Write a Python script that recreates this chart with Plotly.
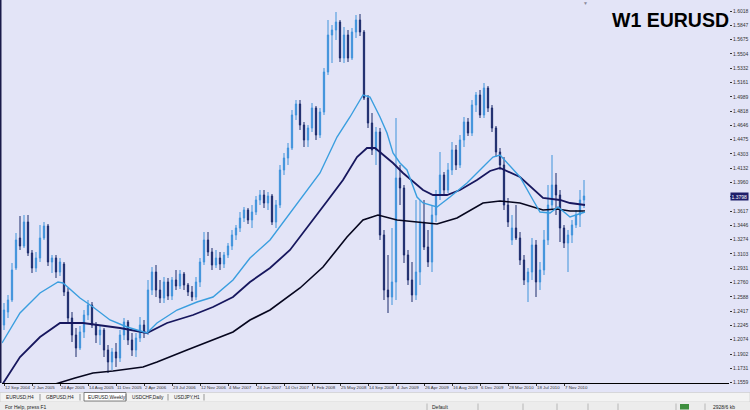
import plotly.graph_objects as go

# ---------------- data ----------------
open_ = [
    1.2250, 1.2406, 1.2550, 1.2934, 1.3294, 1.3198, 1.3486, 1.3114, 1.2934, 1.3054,
    1.3294, 1.3438, 1.3006, 1.3054, 1.2886, 1.2982, 1.2646, 1.2334, 1.2130, 1.1974,
    1.2166, 1.2370, 1.2490, 1.2250, 1.2130, 1.2190, 1.1950, 1.1806, 1.1926, 1.1854,
    1.2130, 1.2286, 1.2070, 1.1950, 1.2094, 1.2250, 1.2166, 1.2670, 1.2886, 1.2670,
    1.2574, 1.2766, 1.2598, 1.2790, 1.2718, 1.2862, 1.2730, 1.2646, 1.2586, 1.2766,
    1.3006, 1.3270, 1.3126, 1.2970, 1.3054, 1.2982, 1.3090, 1.3198, 1.3330, 1.3414,
    1.3534, 1.3630, 1.3510, 1.3606, 1.3750, 1.3810, 1.3714, 1.3798, 1.3486, 1.3690,
    1.4110, 1.4254, 1.4374, 1.4770, 1.4902, 1.4650, 1.4470, 1.4614, 1.4854, 1.4530,
    1.4806, 1.5286, 1.5730, 1.5790, 1.5886, 1.5454, 1.5730, 1.5454, 1.5766, 1.5910,
    1.5766, 1.4974, 1.4674, 1.4350, 1.4566, 1.3330, 1.2670, 1.2586, 1.2766, 1.4014,
    1.3894, 1.3090, 1.2790, 1.2610, 1.2886, 1.3486, 1.3186, 1.3006, 1.3570, 1.3810,
    1.4050, 1.3870, 1.4110, 1.4350, 1.4170, 1.4470, 1.4686, 1.4554, 1.4890, 1.5010,
    1.4770, 1.5094, 1.4854, 1.4614, 1.4326, 1.4170, 1.3690, 1.3270, 1.3414, 1.3294,
    1.3030, 1.2766, 1.2886, 1.3210, 1.2766, 1.2910, 1.3270, 1.3690, 1.3930, 1.3810,
    1.3414, 1.3234, 1.3330, 1.3450, 1.3570, 1.3750,
]
high = [
    1.2514, 1.2610, 1.2994, 1.3354, 1.3558, 1.3570, 1.3570, 1.3150, 1.3126, 1.3450,
    1.3486, 1.3462, 1.3090, 1.3090, 1.3054, 1.3006, 1.2694, 1.2406, 1.2214, 1.2238,
    1.2430, 1.2550, 1.2526, 1.2286, 1.2238, 1.2214, 1.2010, 1.1974, 1.2034, 1.2190,
    1.2334, 1.2310, 1.2154, 1.2154, 1.2346, 1.2310, 1.2790, 1.2946, 1.2970, 1.2790,
    1.2826, 1.2814, 1.2826, 1.2910, 1.2910, 1.2886, 1.2754, 1.2718, 1.2826, 1.3054,
    1.3366, 1.3366, 1.3174, 1.3150, 1.3126, 1.3126, 1.3234, 1.3390, 1.3450, 1.3606,
    1.3666, 1.3654, 1.3690, 1.3798, 1.3870, 1.3870, 1.3846, 1.3822, 1.3750, 1.4170,
    1.4314, 1.4434, 1.4830, 1.4950, 1.4950, 1.4686, 1.4650, 1.4914, 1.4878, 1.4854,
    1.5334, 1.5910, 1.5850, 1.6006, 1.5910, 1.5826, 1.5790, 1.5814, 1.5970, 1.5982,
    1.5790, 1.5010, 1.4794, 1.4626, 1.4614, 1.3390, 1.3090, 1.3414, 1.4734, 1.4170,
    1.3930, 1.3150, 1.3006, 1.3750, 1.3750, 1.3750, 1.3390, 1.3690, 1.3870, 1.4326,
    1.4086, 1.4194, 1.4446, 1.4410, 1.4530, 1.4746, 1.4734, 1.4950, 1.5046, 1.5070,
    1.5154, 1.5118, 1.4890, 1.4638, 1.4374, 1.4266, 1.3774, 1.3570, 1.3690, 1.3366,
    1.3090, 1.2934, 1.3294, 1.3270, 1.3006, 1.3390, 1.3930, 1.4290, 1.4074, 1.3870,
    1.3450, 1.3390, 1.3510, 1.3630, 1.3870, 1.3990,
]
low = [
    1.2190, 1.2334, 1.2526, 1.2910, 1.3150, 1.3174, 1.3078, 1.2874, 1.2886, 1.3006,
    1.3270, 1.2958, 1.2874, 1.2814, 1.2838, 1.2598, 1.2286, 1.2046, 1.1866, 1.1950,
    1.2094, 1.2310, 1.2214, 1.2034, 1.2010, 1.1866, 1.1674, 1.1710, 1.1746, 1.1806,
    1.2070, 1.2010, 1.1878, 1.1866, 1.2046, 1.2094, 1.2130, 1.2610, 1.2586, 1.2514,
    1.2514, 1.2550, 1.2550, 1.2670, 1.2682, 1.2670, 1.2598, 1.2538, 1.2550, 1.2706,
    1.2970, 1.3078, 1.2910, 1.2934, 1.2910, 1.2934, 1.3054, 1.3150, 1.3270, 1.3366,
    1.3486, 1.3462, 1.3414, 1.3570, 1.3690, 1.3654, 1.3630, 1.3450, 1.3414, 1.3654,
    1.4050, 1.4170, 1.4350, 1.4710, 1.4590, 1.4386, 1.4386, 1.4566, 1.4470, 1.4494,
    1.4770, 1.5250, 1.5394, 1.5670, 1.5406, 1.5394, 1.5406, 1.5430, 1.5694, 1.5718,
    1.4950, 1.4614, 1.4290, 1.4170, 1.3270, 1.2550, 1.2394, 1.2490, 1.2550, 1.3690,
    1.2994, 1.2730, 1.2526, 1.2550, 1.2730, 1.3150, 1.2946, 1.2886, 1.3486, 1.3750,
    1.3810, 1.3834, 1.4050, 1.4110, 1.4134, 1.4386, 1.4518, 1.4518, 1.4806, 1.4734,
    1.4734, 1.4806, 1.4566, 1.4266, 1.4110, 1.3630, 1.3426, 1.3210, 1.3270, 1.2970,
    1.2730, 1.2526, 1.2790, 1.2586, 1.2670, 1.2850, 1.3210, 1.3630, 1.3570, 1.3246,
    1.3174, 1.2886, 1.3234, 1.3414, 1.3426, 1.3654,
]
close = [
    1.2430, 1.2550, 1.2910, 1.3270, 1.3198, 1.3486, 1.3114, 1.2934, 1.3054, 1.3294,
    1.3438, 1.3006, 1.3054, 1.2886, 1.3006, 1.2646, 1.2334, 1.2130, 1.1974, 1.2166,
    1.2370, 1.2490, 1.2250, 1.2130, 1.2190, 1.1950, 1.1806, 1.1926, 1.1854, 1.2130,
    1.2286, 1.2070, 1.1950, 1.2094, 1.2250, 1.2166, 1.2670, 1.2886, 1.2670, 1.2574,
    1.2766, 1.2598, 1.2790, 1.2718, 1.2862, 1.2730, 1.2646, 1.2586, 1.2766, 1.3006,
    1.3270, 1.3126, 1.2970, 1.3054, 1.2982, 1.3090, 1.3198, 1.3330, 1.3414, 1.3534,
    1.3630, 1.3510, 1.3606, 1.3750, 1.3810, 1.3714, 1.3798, 1.3486, 1.3690, 1.4110,
    1.4254, 1.4374, 1.4770, 1.4902, 1.4650, 1.4470, 1.4614, 1.4854, 1.4530, 1.4806,
    1.5286, 1.5730, 1.5790, 1.5886, 1.5454, 1.5730, 1.5454, 1.5766, 1.5910, 1.5766,
    1.4974, 1.4674, 1.4350, 1.4566, 1.3330, 1.2670, 1.2586, 1.2766, 1.4014, 1.3894,
    1.3090, 1.2790, 1.2610, 1.2886, 1.3486, 1.3186, 1.3006, 1.3570, 1.3810, 1.4050,
    1.3870, 1.4110, 1.4350, 1.4170, 1.4470, 1.4686, 1.4554, 1.4890, 1.5010, 1.4770,
    1.5094, 1.4854, 1.4614, 1.4326, 1.4170, 1.3690, 1.3486, 1.3414, 1.3294, 1.3030,
    1.2790, 1.2886, 1.3210, 1.2766, 1.2910, 1.3270, 1.3690, 1.3930, 1.3810, 1.3414,
    1.3234, 1.3330, 1.3450, 1.3570, 1.3750, 1.3798,
]
bar_idx = list(range(len(close)))

# moving averages (traced)
ma_fast_idx = [-0.5, 4, 9, 13.5, 14.75, 19, 22.25, 26.5, 30.75, 35.75, 38.25, 43.25, 48.25,
               52.25, 57.25, 61.5, 66.5, 74, 79, 83.25, 86.5, 89.75, 91.5, 94, 95.75, 97.25,
               99, 100.75, 103.25, 104.75, 108.25, 111.5, 115.75, 119.75, 122.25, 124, 129,
               132.25, 134, 136.5, 138.5, 141.5, 145.25]
ma_fast = [1.2034, 1.2394, 1.2634, 1.2766, 1.2754, 1.2574, 1.2466, 1.2310, 1.2226, 1.2154,
           1.2274, 1.2430, 1.2526, 1.2586, 1.2790, 1.3054, 1.3270, 1.3750, 1.4074, 1.4506,
           1.4746, 1.5010, 1.4986, 1.4746, 1.4554, 1.4314, 1.4194, 1.4110, 1.3786, 1.3714,
           1.3666, 1.3786, 1.3954, 1.4146, 1.4266, 1.4290, 1.4026, 1.3750, 1.3606, 1.3594,
           1.3666, 1.3546, 1.3606]

ma_mid_idx = [-0.5, 4, 9, 14, 19.75, 24, 29, 35.75, 40.75, 47.25, 52.25, 57.25, 61.5, 66.5,
              71.5, 81, 84.75, 88.25, 90.75, 92.75, 94.75, 97.25, 99.75, 102.25, 104.75,
              107.25, 110.75, 114, 118.25, 121.5, 124, 129, 134.75, 139, 141.5, 145.25]
ma_mid = [1.1530, 1.1866, 1.2106, 1.2274, 1.2274, 1.2250, 1.2214, 1.2154, 1.2274, 1.2370,
          1.2466, 1.2586, 1.2766, 1.2934, 1.3150, 1.3750, 1.3990, 1.4266, 1.4374, 1.4374,
          1.4290, 1.4194, 1.4074, 1.3966, 1.3870, 1.3810, 1.3810, 1.3870, 1.3990, 1.4098,
          1.4134, 1.4026, 1.3774, 1.3750, 1.3714, 1.3690]

ma_slow_idx = [10, 13.5, 17.75, 22.25, 27.25, 34.75, 38.25, 45.75, 52.25, 57.25, 61.5, 66.5,
               74, 79.75, 85.75, 89.75, 93.5, 98.25, 103.25, 108.25, 113.25, 119.75, 124,
               129, 134.75, 138.25, 141.5, 145.25]
ma_slow = [1.1500, 1.1554, 1.1614, 1.1674, 1.1698, 1.1746, 1.1806, 1.1950, 1.2070, 1.2166,
           1.2310, 1.2430, 1.2694, 1.2946, 1.3306, 1.3510, 1.3570, 1.3510, 1.3486, 1.3462,
           1.3534, 1.3714, 1.3738, 1.3714, 1.3630, 1.3642, 1.3618, 1.3618]

price_ticks = [1.6018, 1.5847, 1.5675, 1.5504, 1.5332, 1.5161, 1.4989, 1.4818, 1.4646,
               1.4475, 1.4303, 1.4132, 1.3960, 1.3789, 1.3617, 1.3446, 1.3274, 1.3103,
               1.2931, 1.2760, 1.2588, 1.2417, 1.2245, 1.2074, 1.1902, 1.1731, 1.1559]
price_range = [1.1554, 1.6150]

date_tick_idx = list(range(0, 141, 7))
date_labels = ["12 Sep 2004", "2 Jan 2005", "24 Apr 2005", "14 Aug 2005", "11 Dec 2005",
               "2 Apr 2006", "23 Jul 2006", "12 Nov 2006", "4 Mar 2007", "24 Jun 2007",
               "14 Oct 2007", "3 Feb 2008", "25 May 2008", "14 Sep 2008", "4 Jan 2009",
               "26 Apr 2009", "16 Aug 2009", "6 Dec 2009", "28 Mar 2010", "18 Jul 2010",
               "7 Nov 2010"]

tab_labels = ["EURUSD,H4", "GBPUSD,H4", "EURUSD,Weekly", "USDCHF,Daily", "USDJPY,H1"]
tab_x = [4, 44, 86, 130, 172]
tab_sep_x = [40, 80, 126, 168, 204]
status_sep_x = [427, 478, 523, 557, 588, 618, 676, 705]

# ---------------- style ----------------
BG = "#E3E4F7"
UP = "#3F93DB"
DOWN = "#1B2A6B"
FAST = "#3A9EDF"
MID = "#17175E"
SLOW = "#06061E"
FONT = "Liberation Sans, Arial, sans-serif"

W, H = 750, 410
ML, MR, MT, MB = 2, 21, 0, 27
PW = W - ML - MR
PH = H - MT - MB
BAR_PX = 4


def px(x):
    return (x - ML) / PW


def py(y):
    return (H - MB - y) / PH


fig = go.Figure()
fig.add_trace(go.Candlestick(
    x=bar_idx, open=open_, high=high, low=low, close=close,
    increasing=dict(line=dict(color=UP, width=1), fillcolor=UP),
    decreasing=dict(line=dict(color=DOWN, width=1), fillcolor=DOWN),
    whiskerwidth=0, showlegend=False, hoverinfo="skip"))
fig.add_trace(go.Scatter(x=ma_slow_idx, y=ma_slow, mode="lines",
                         line=dict(color=SLOW, width=1.6), showlegend=False, hoverinfo="skip"))
fig.add_trace(go.Scatter(x=ma_mid_idx, y=ma_mid, mode="lines",
                         line=dict(color=MID, width=1.8), showlegend=False, hoverinfo="skip"))
fig.add_trace(go.Scatter(x=ma_fast_idx, y=ma_fast, mode="lines",
                         line=dict(color=FAST, width=1.4), showlegend=False, hoverinfo="skip"))

shapes = []
annotations = []

# left border
shapes.append(dict(type="rect", xref="paper", yref="paper", x0=px(0), x1=px(1.5),
                   y0=py(H - MB), y1=py(0), fillcolor="#1a1a4a", line=dict(width=0), layer="above"))
# tab bar
shapes.append(dict(type="rect", xref="paper", yref="paper", x0=px(0), x1=px(W),
                   y0=py(402), y1=py(392.5), fillcolor="#F3F3F3", layer="below",
                   line=dict(color="#C8C8C8", width=0.6)))
# status bar
shapes.append(dict(type="rect", xref="paper", yref="paper", x0=px(0), x1=px(W),
                   y0=py(411), y1=py(402), fillcolor="#ECECEC", layer="below", line=dict(width=0)))
for i, (t, x) in enumerate(zip(tab_labels, tab_x)):
    if i == 2:
        shapes.append(dict(type="rect", xref="paper", yref="paper", x0=px(x - 2), x1=px(tab_sep_x[i]),
                           y0=py(401), y1=py(392.5), fillcolor="#FFFFFF", layer="below",
                           line=dict(color="#606060", width=0.8)))
    annotations.append(dict(xref="paper", yref="paper", x=px(x), y=py(397), text=t,
                            showarrow=False, xanchor="left", yanchor="middle",
                            font=dict(family=FONT, size=4.8, color="#222222")))
for x in tab_sep_x:
    shapes.append(dict(type="line", xref="paper", yref="paper", x0=px(x), x1=px(x),
                       y0=py(400.5), y1=py(394), layer="below", line=dict(color="#707070", width=0.7)))
for x in status_sep_x:
    shapes.append(dict(type="line", xref="paper", yref="paper", x0=px(x), x1=px(x),
                       y0=py(410), y1=py(403.5), layer="below", line=dict(color="#A0A0A0", width=0.7)))
shapes.append(dict(type="rect", xref="paper", yref="paper", x0=px(680), x1=px(689),
                   y0=py(409.5), y1=py(404), fillcolor="#3E8E3E", layer="below", line=dict(width=0)))
annotations.append(dict(xref="paper", yref="paper", x=px(3), y=py(406.5), text="For Help, press F1",
                        showarrow=False, xanchor="left", yanchor="middle",
                        font=dict(family=FONT, size=5, color="#222222")))
annotations.append(dict(xref="paper", yref="paper", x=px(430), y=py(406.5), text="Default",
                        showarrow=False, xanchor="left", yanchor="middle",
                        font=dict(family=FONT, size=5, color="#222222")))
annotations.append(dict(xref="paper", yref="paper", x=px(711), y=py(406.5), text="2928/6 kb",
                        showarrow=False, xanchor="left", yanchor="middle",
                        font=dict(family=FONT, size=5, color="#222222")))

# title
annotations.append(dict(xref="paper", yref="paper", x=px(731), y=py(20), text="<b>W1 EURUSD</b>",
                        showarrow=False, xanchor="right", yanchor="middle",
                        font=dict(family=FONT, size=19.5, color="#000000")))
# chart shift marker
annotations.append(dict(xref="paper", yref="paper", x=px(585), y=py(3.5), text="▼",
                        showarrow=False, xanchor="center", yanchor="middle",
                        font=dict(family=FONT, size=5, color="#8A8A9A")))
# current price box
annotations.append(dict(xref="paper", yref="y", x=px(730), y=close[-1], text=f"{close[-1]:.4f}",
                        showarrow=False, xanchor="left", yanchor="middle", bgcolor="#1E1E6A",
                        borderpad=0.5, font=dict(family=FONT, size=5, color="#FFFFFF")))

fig.update_layout(
    width=W, height=H, autosize=False,
    margin=dict(l=ML, r=MR, t=MT, b=MB, pad=0, autoexpand=False),
    paper_bgcolor=BG, plot_bgcolor=BG,
    boxgap=0.55,
    showlegend=False,
    shapes=shapes, annotations=annotations,
    xaxis=dict(range=[-0.5, -0.5 + PW / BAR_PX], rangeslider=dict(visible=False),
               showgrid=False, zeroline=False, showline=True, linecolor="#000000", linewidth=1,
               tickvals=date_tick_idx, ticktext=date_labels, ticks="outside", ticklen=2,
               tickcolor="#333333", ticklabelposition="outside right", tickangle=0,
               tickfont=dict(family=FONT, size=4.4, color="#333333"), fixedrange=True),
    yaxis=dict(range=price_range, side="right", showgrid=False, zeroline=False, showline=False,
               tickvals=price_ticks, ticktext=[f"{v:.4f}" for v in price_ticks],
               ticks="outside", ticklen=2, tickcolor="#333333",
               tickfont=dict(family=FONT, size=5, color="#333333"), fixedrange=True),
)

fig.write_html(
    "out.html",
    config={"displayModeBar": False, "staticPlot": True},
    post_script="document.body.style.margin='0';document.body.style.padding='0';"
                "document.body.style.overflow='hidden';"
                "document.body.style.background='" + BG + "';",
)
